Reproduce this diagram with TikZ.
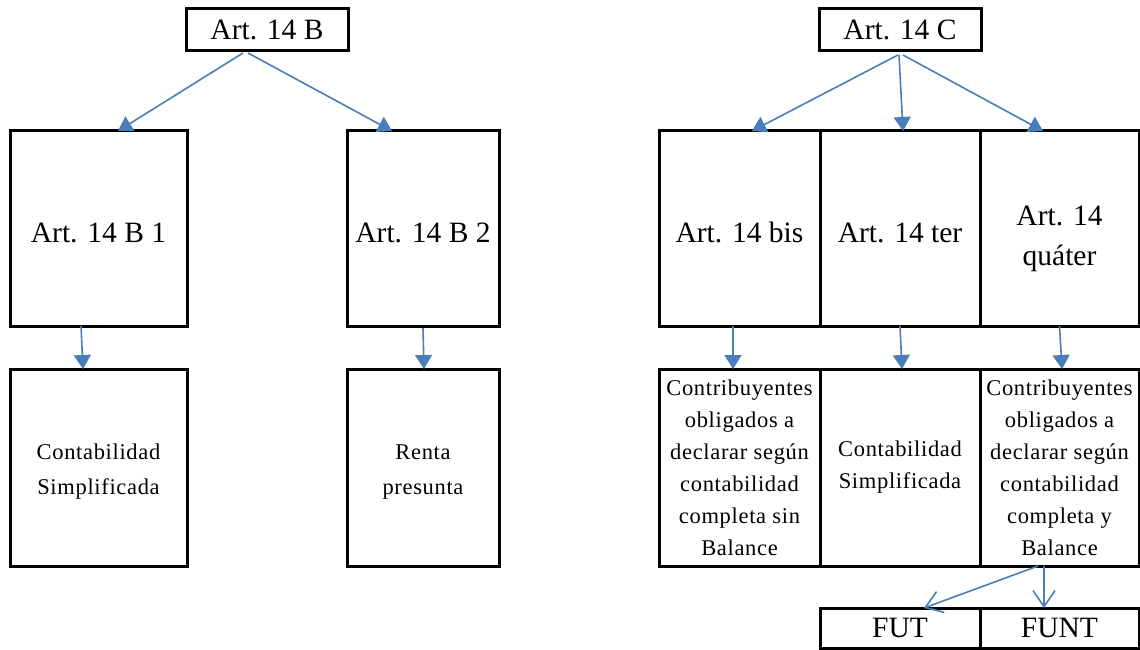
\documentclass[tikz,border=0pt]{standalone}
\usepackage{fontspec}
\setmainfont{Liberation Serif}
\newfontfamily\spaced[LetterSpace=3]{Liberation Serif}
\usepackage{tikz}
\usetikzlibrary{positioning,arrows.meta}
\definecolor{arrowblue}{RGB}{74,126,187}
\newcommand{\bigtext}{\fontsize{29.5}{40}\selectfont}
\newcommand{\smalltext}{\fontsize{22.5}{32}\selectfont\spaced}
\newcommand{\widetext}{\fontsize{22.5}{35}\selectfont\spaced}
\tikzstyle{art} = [draw, line width=3pt, outer sep=0pt, inner sep=0pt, minimum height=42pt, font=\bigtext]
\tikzstyle{regime} = [draw, line width=3pt, outer sep=0pt, inner sep=0pt, minimum height=195pt, align=center, font=\bigtext]
\tikzstyle{detail} = [draw, line width=3pt, outer sep=0pt, inner sep=0pt, minimum height=197pt, align=center, font=\smalltext]
\tikzstyle{flow} = [draw=arrowblue, line width=1.6pt, -{Triangle[length=14pt,width=17pt]}]
\tikzstyle{flowopen} = [draw=arrowblue, line width=1.6pt, -{Straight Barb[length=16pt,width=22pt]}]

\begin{document}
\begin{tikzpicture}[x=1pt,y=-1pt]
			\useasboundingbox (0,0) rectangle (1140,650);
			% left branch
			\node[art, minimum width=162pt] (b) at (267,30) {Art. 14 B};
			\node[regime, text height=28pt, minimum width=177pt] (b1) at (98.5,228.5) {Art. 14 B 1};
			\node[regime, text height=28pt, minimum width=152pt] (b2) at (423,228.5) {Art. 14 B 2};
			\node[detail, font=\widetext, minimum width=177pt] (b1s) at (98.5,467.5) {\rule{0pt}{24pt}Contabilidad\\Simplificada};
			\node[detail, font=\widetext, minimum width=152pt] (b2s) at (423,467.5) {\rule{0pt}{24pt}Renta\\presunta};
			% right branch
			\node[art, minimum width=162pt] (c) at (900,30) {Art. 14 C};
			\node[regime, text height=28pt, minimum width=161pt] (bis) at (739.5,228.5) {Art. 14 bis};
			\node[regime, text height=28pt, minimum width=160pt, right = 0pt of bis] (ter) {Art. 14 ter};
			\node[regime, minimum width=159pt, right = 0pt of ter] (quater) {\rule{0pt}{41pt}Art. 14\\quáter};
			\node[detail, minimum width=161pt] (biss) at (739.5,467.5) {Contribuyentes\\obligados a\\declarar según\\contabilidad\\completa sin\\Balance};
			\node[detail, minimum width=160pt, right = 0pt of biss] (ters) {Contabilidad\\Simplificada};
			\node[detail, minimum width=159pt, right = 0pt of ters] (quaters) {Contribuyentes\\obligados a\\declarar según\\contabilidad\\completa y\\Balance};
			\node[art, minimum width=160pt, minimum height=40pt] (fut) at (900,628) {FUT};
			\node[art, minimum width=159pt, minimum height=40pt, right = 0pt of fut] (funt) {FUNT};
			% arrows
			\draw[flow] ([xshift=-24pt,yshift=-2pt]b.south) -- ([xshift=19.5pt]b1.north);
			\draw[flow] ([xshift=-19pt,yshift=-2pt]b.south) -- ([xshift=-31pt]b2.north);
			\draw[flow] ([xshift=-17.5pt]b1.south) -- ([xshift=-15.5pt]b1s.north);
			\draw[flow] ([yshift=-2pt]b2.south) -- ([xshift=1pt]b2s.north);
			\draw[flow] ([xshift=-2pt,yshift=-4pt]c.south) -- ([xshift=12.5pt]bis.north);
			\draw[flow] ([xshift=-1pt,yshift=-4pt]c.south) -- ([xshift=3pt]ter.north);
			\draw[flow] ([xshift=3pt,yshift=-4pt]c.south) -- ([xshift=-16.5pt]quater.north);
			\draw[flow] ([xshift=-6.5pt]bis.south) -- ([xshift=-6.5pt]biss.north);
			\draw[flow] (ter.south) -- ([xshift=2pt]ters.north);
			\draw[flow] (quater.south) -- ([xshift=2.5pt]quaters.north);
			\draw[flowopen] ([xshift=-21.5pt]quaters.south) -- ([xshift=24pt]fut.north);
			\draw[flowopen] ([xshift=-15.5pt]quaters.south) -- ([xshift=-15.5pt]funt.north);
		\end{tikzpicture}
\end{document}
